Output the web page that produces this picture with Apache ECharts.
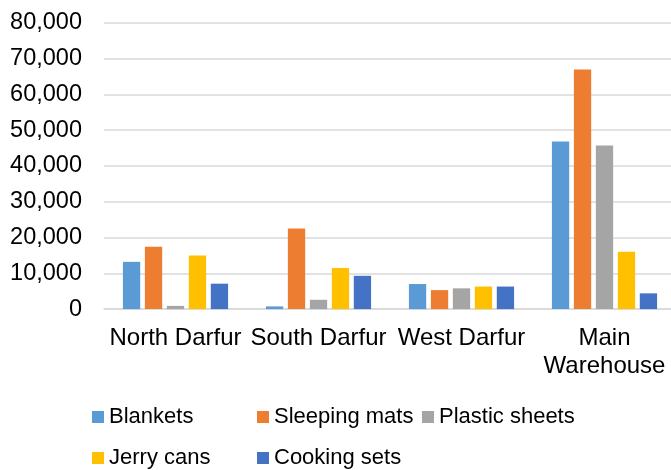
<!DOCTYPE html>
<html>
<head>
<meta charset="utf-8">
<script src="https://cdn.jsdelivr.net/npm/echarts@6/dist/echarts.min.js"></script>
<style>
html,body{margin:0;padding:0;background:#fff;overflow:hidden;}
#c{width:676px;height:470px;}
</style>
</head>
<body>
<div id="c"></div>
<script>
const categories = ['North Darfur', 'South Darfur', 'West Darfur', 'Main\nWarehouse'];
const seriesNames = ['Blankets', 'Sleeping mats', 'Plastic sheets', 'Jerry cans', 'Cooking sets'];
const blankets = [13200, 750, 7000, 46800];
const sleepingMats = [17400, 22500, 5300, 66900];
const plasticSheets = [900, 2600, 5800, 45700];
const jerryCans = [15000, 11500, 6300, 16000];
const cookingSets = [7100, 9300, 6300, 4400];
const yTicks = [0, 10000, 20000, 30000, 40000, 50000, 60000, 70000, 80000];

const colors = ['#5B9BD5', '#ED7D31', '#A5A5A5', '#FFC000', '#4472C4'];
const values = [blankets, sleepingMats, plasticSheets, jerryCans, cookingSets];
const FONT = 'Liberation Sans, Arial, sans-serif';

const legendPos = [
  {left: 92, top: 405},
  {left: 257, top: 405},
  {left: 422, top: 405},
  {left: 92, top: 446},
  {left: 257, top: 446}
];

const chart = echarts.init(document.getElementById('c'), null, {renderer: 'canvas'});
chart.setOption({
  animation: false,
  backgroundColor: '#ffffff',
  color: colors,
  textStyle: {fontFamily: FONT},
  grid: {left: 104, right: 0, top: 22.7, bottom: 160.9, containLabel: false},
  legend: seriesNames.map((n, i) => ({
    data: [n],
    left: legendPos[i].left,
    top: legendPos[i].top,
    padding: 0,
    itemWidth: 12,
    itemHeight: 12,
    itemGap: 0,
    icon: 'rect',
    textStyle: {fontSize: 22, color: '#000', fontFamily: FONT, padding: [0, 0, 0, 0], lineHeight: 24},
    selectedMode: false
  })),
  xAxis: {
    type: 'category',
    data: categories,
    axisLine: {show: true, lineStyle: {color: '#d9d9d9', width: 1.5}},
    axisTick: {show: false},
    axisLabel: {fontSize: 24, color: '#000', margin: 15, lineHeight: 28, fontFamily: FONT, interval: 0}
  },
  yAxis: {
    type: 'value',
    min: yTicks[0],
    max: yTicks[yTicks.length - 1],
    interval: yTicks[1] - yTicks[0],
    axisLine: {show: false},
    axisTick: {show: false},
    splitLine: {lineStyle: {color: '#d9d9d9', width: 1.5}},
    axisLabel: {
      fontSize: 23.5, color: '#000', margin: 22, fontFamily: FONT,
      formatter: v => v.toLocaleString('en-US')
    }
  },
  series: seriesNames.map((n, i) => ({
    name: n,
    type: 'bar',
    data: values[i],
    barWidth: 17.3,
    barGap: '27%',
    itemStyle: {color: colors[i]}
  }))
});
</script>
</body>
</html>
